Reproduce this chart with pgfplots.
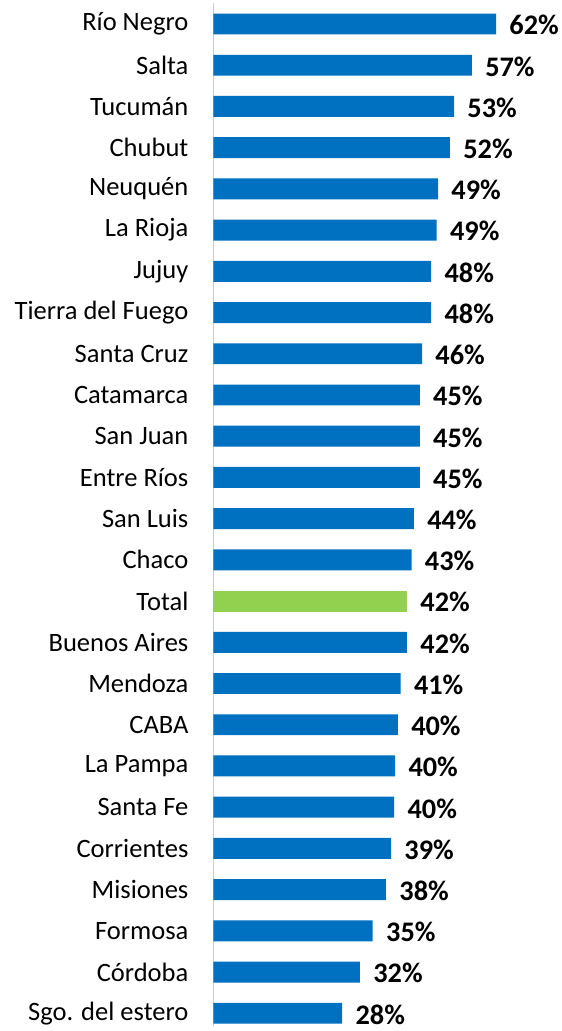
\documentclass[border=0pt]{standalone}
\usepackage{fontspec}
\setmainfont{Carlito}
\usepackage{pgfplots}
\pgfplotsset{compat=1.18}
\usepackage{pgfplotstable}
\definecolor{barblue}{HTML}{0070C0}
\definecolor{bargreen}{HTML}{92D050}

% index, value, label
\pgfplotstableread{
idx val lab
0  61.9 62
1  56.6 57
2  52.7 53
3  51.8 52
4  49.2 49
5  48.9 49
6  47.7 48
7  47.7 48
8  45.7 46
9  45.2 45
10 45.2 45
11 45.2 45
12 43.9 44
13 43.4 43
15 42.4 42
16 41.0 41
17 40.4 40
18 39.8 40
19 39.6 40
20 38.9 39
21 37.8 38
22 34.9 35
23 32.1 32
24 28.2 28
}\provs
\pgfplotstableread{
idx val lab
14 42.4 42
}\total

\begin{document}
\begin{tikzpicture}
\begin{axis}[
  name=ax,
  xbar,
  x=2.29pt, y=20.67pt,
  y dir=reverse,
  xmin=0, xmax=75,
  ymin=-0.51, ymax=24.31,
  axis x line=none,
  axis y line=left,
  y axis line style={draw=black!20, -},
  major tick length=0pt,
  ytick={0,...,24},
  yticklabels={Río Negro,Salta,Tucumán,Chubut,Neuquén,La Rioja,Jujuy,Tierra del Fuego,Santa Cruz,Catamarca,San Juan,Entre Ríos,San Luis,Chaco,Total,Buenos Aires,Mendoza,CABA,La Pampa,Santa Fe,Corrientes,Misiones,Formosa,Córdoba,Sgo. del estero},
  yticklabel style={font=\fontsize{13.3}{13}\selectfont, xshift=-9pt},
  bar width=10.5pt,
  bar shift=0pt,
  /pgf/number format/assume math mode=true,
  nodes near coords={\pgfmathprintnumber[fixed,precision=0]{\pgfplotspointmeta}\%},
  point meta=explicit,
  every node near coord/.append style={font=\bfseries\fontsize{14.2}{14}\selectfont, anchor=west, xshift=3.2pt, yshift=-0.6pt, text=black},
  clip=false,
]
\addplot[fill=barblue, draw=none] table[x=val, y=idx, meta=lab] {\provs};
\addplot[fill=bargreen, draw=none] table[x=val, y=idx, meta=lab] {\total};
\end{axis}
\pgfresetboundingbox
\path ([xshift=-107pt, yshift=-2.5pt]ax.south west) rectangle ([xshift=2.75pt, yshift=1.5pt]ax.north east);
\end{tikzpicture}
\end{document}
